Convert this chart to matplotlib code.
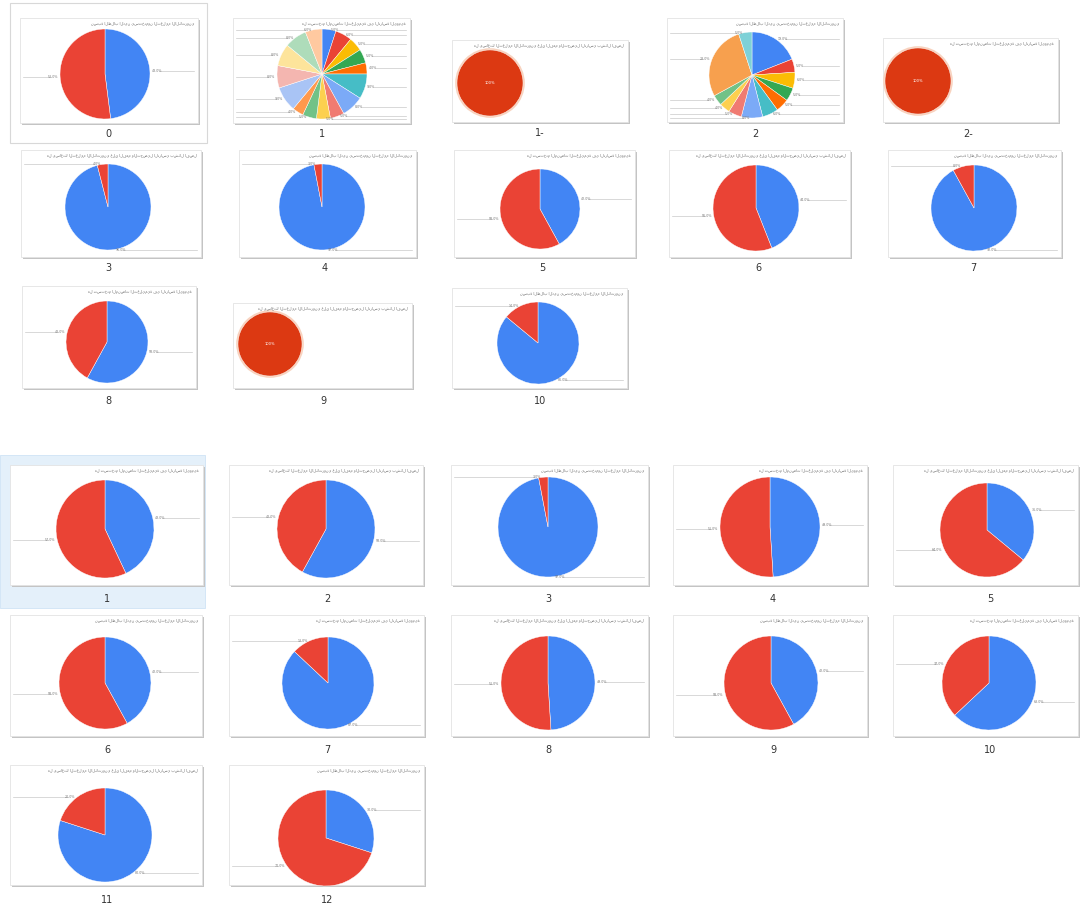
import numpy as np
import matplotlib.pyplot as plt
from matplotlib.patches import Rectangle, Circle

W, H = 1082, 908

# ---- data -------------------------------------------------------------
top_labels = ["0", "1", "1-", "2", "2-", "3", "4", "5", "6", "7", "8", "9", "10"]
bottom_labels = ["1", "2", "3", "4", "5", "6", "7", "8", "9", "10", "11", "12"]

pie1_shares = [5, 6, 5, 5, 4, 9, 8, 5, 5, 5, 4, 9, 8, 8, 8, 6]
pie2_shares = [19, 5, 6, 5, 5, 6, 8, 5, 4, 4, 28, 5]

top_shares = [[48, 52], pie1_shares, [100], pie2_shares, [100],
              [96, 4], [97, 3], [42, 58], [44, 56], [92, 8],
              [58, 42], [100], [86, 14]]
bottom_shares = [[43, 57], [58, 42], [97, 3], [49, 51], [36, 64], [42, 58],
                 [87, 13], [49, 51], [42, 58], [63, 37], [80, 20], [30, 70]]

titles = [
    "نسبة الطلاب الذين يستخدمون التعليم الالكتروني",
    "هل تستخدم المنصات التعليمية في الدراسة اليومية",
    "هل يساعدك التعليم الالكتروني على الفهم والتحصيل الدراسي بشكل افضل",
]

# ---- layout (pixels): card box, pie centre/radius, caption ------------
top_cards = [(20, 18, 198, 123), (233, 18, 410, 123), (452, 40, 628, 122),
             (667, 18, 843, 122), (883, 38, 1058, 122),
             (21, 150, 201, 257), (239, 150, 416, 257), (454, 150, 635, 257),
             (669, 150, 850, 257), (888, 150, 1061, 257),
             (22, 286, 196, 388), (233, 303, 412, 388), (452, 288, 627, 388)]
top_pies = [(105, 74, 45), (322, 74, 45), (490, 83, 33), (752, 75, 43),
            (918, 81, 33), (108, 207, 43), (322, 207, 43), (540, 209, 40),
            (756, 208, 43), (974, 208, 43), (107, 342, 41), (270, 344, 32),
            (538, 343, 41)]
top_caps = [(108, 134), (322, 134), (540, 133), (755, 134), (968, 134),
            (108, 268), (325, 268), (542, 268), (758, 268), (973, 268),
            (108, 401), (323, 401), (540, 401)]

bottom_cards = [(10, 465, 203, 585), (229, 465, 423, 585), (451, 465, 648, 585),
                (673, 465, 867, 585), (893, 465, 1078, 585),
                (10, 615, 202, 736), (229, 615, 424, 736), (451, 615, 648, 736),
                (673, 615, 867, 736), (893, 615, 1078, 736),
                (10, 765, 202, 885), (229, 765, 424, 885)]
bottom_pies = [(105, 529, 49), (326, 529, 49), (548, 527, 50), (770, 527, 50),
               (987, 530, 47), (105, 683, 46), (328, 683, 46), (548, 683, 47),
               (771, 683, 47), (989, 683, 47), (105, 835, 47), (326, 838, 48)]
bottom_caps = [(107, 599), (327, 599), (548, 599), (773, 599), (990, 599),
               (107, 750), (327, 750), (548, 750), (773, 750), (990, 750),
               (107, 900), (327, 900)]

BLUE, RED, SOLO = '#4285f4', '#ea4335', '#dc3912'
multi_colors = ['#4285f4', '#ea4335', '#fbbc04', '#34a853', '#ff6d01', '#46bdc6',
                '#7baaf7', '#f07b72', '#fcd04f', '#71c287', '#ff994d', '#a9c4f5',
                '#f4b6b0', '#fde49b', '#aedcba', '#ffc9a0']
multi2_colors = ['#4285f4', '#ea4335', '#fbbc04', '#34a853', '#ff6d01', '#46bdc6',
                 '#7baaf7', '#f07b72', '#fcd04f', '#71c287', '#f7a04e', '#7ed1d7']

fig = plt.figure(figsize=(W / 100, H / 100), dpi=100)
ax = fig.add_axes([0, 0, 1, 1])


def draw_card(box, shares, pie, cap, label, k):
    x0, y0, x1, y1 = box
    w, h = x1 - x0, y1 - y0
    ax.add_patch(Rectangle((x0 + 1.5, y0 + 1.5), w, h, facecolor='#c4c4c4',
                           edgecolor='none', zorder=1))
    ax.add_patch(Rectangle((x0, y0), w, h, facecolor='white',
                           edgecolor='#e3e3e3', lw=0.6, zorder=2))
    cx, cy, r = pie
    if len(shares) == 1:
        colors = [SOLO]
    elif len(shares) == 2:
        colors = [BLUE, RED]
    elif len(shares) == len(pie1_shares):
        colors = multi_colors
    else:
        colors = multi2_colors
    # title (tiny, right aligned)
    t = titles[k % len(titles)]
    ax.text(x1 - 4, y0 + 4, t, ha='right', va='top', fontsize=2.6,
            color='#666666', zorder=4)
    if len(shares) == 1:
        ax.add_patch(Circle((cx, cy), r + 1.8, facecolor='#f8d3bf',
                            edgecolor='none', zorder=2.5))
    wedges, _ = ax.pie(shares, colors=colors, center=(cx, cy), radius=r,
                       startangle=-90, counterclock=True,
                       wedgeprops=dict(linewidth=0.3, edgecolor='white',
                                       zorder=3))
    for wd in wedges:
        wd.set_zorder(3)
    if len(shares) == 1:
        ax.text(cx, cy, "100%", ha='center', va='center', fontsize=2.6,
                color='white', zorder=5)
    else:
        total = float(sum(shares))
        for wd, v in zip(wedges, shares):
            th = np.deg2rad((wd.theta1 + wd.theta2) / 2)
            px, py = cx + r * np.cos(th), cy + r * np.sin(th)
            side = 1 if np.cos(th) >= 0 else -1
            end = x1 - 4 if side > 0 else x0 + 3
            ax.plot([px + side * 9, end], [py, py], color='#c9c9c9', lw=0.5,
                    zorder=2.6)
            ax.text(px + side * 2, py, f"{100 * v / total:.1f}%",
                    ha='left' if side > 0 else 'right', va='center',
                    fontsize=2.3, color='#777777', zorder=4)
    ax.text(cap[0], cap[1], label, ha='center', va='center', fontsize=7,
            color='#333333', zorder=4)


# selection highlight / frame
ax.add_patch(Rectangle((0, 455), 205, 153, facecolor='#e4f0fa',
                       edgecolor='#cfe3f5', lw=0.6, zorder=0))
ax.add_patch(Rectangle((10, 3), 197, 140, facecolor='none',
                       edgecolor='#d8d8d8', lw=0.8, zorder=0))

for i, lab in enumerate(top_labels):
    draw_card(top_cards[i], top_shares[i], top_pies[i], top_caps[i], lab, i)
for i, lab in enumerate(bottom_labels):
    draw_card(bottom_cards[i], bottom_shares[i], bottom_pies[i], bottom_caps[i],
              lab, i + 1)

ax.set_xlim(0, W)
ax.set_ylim(H, 0)
ax.set_aspect('auto')
ax.axis('off')
fig.savefig('out.png', dpi=100, facecolor='white')
